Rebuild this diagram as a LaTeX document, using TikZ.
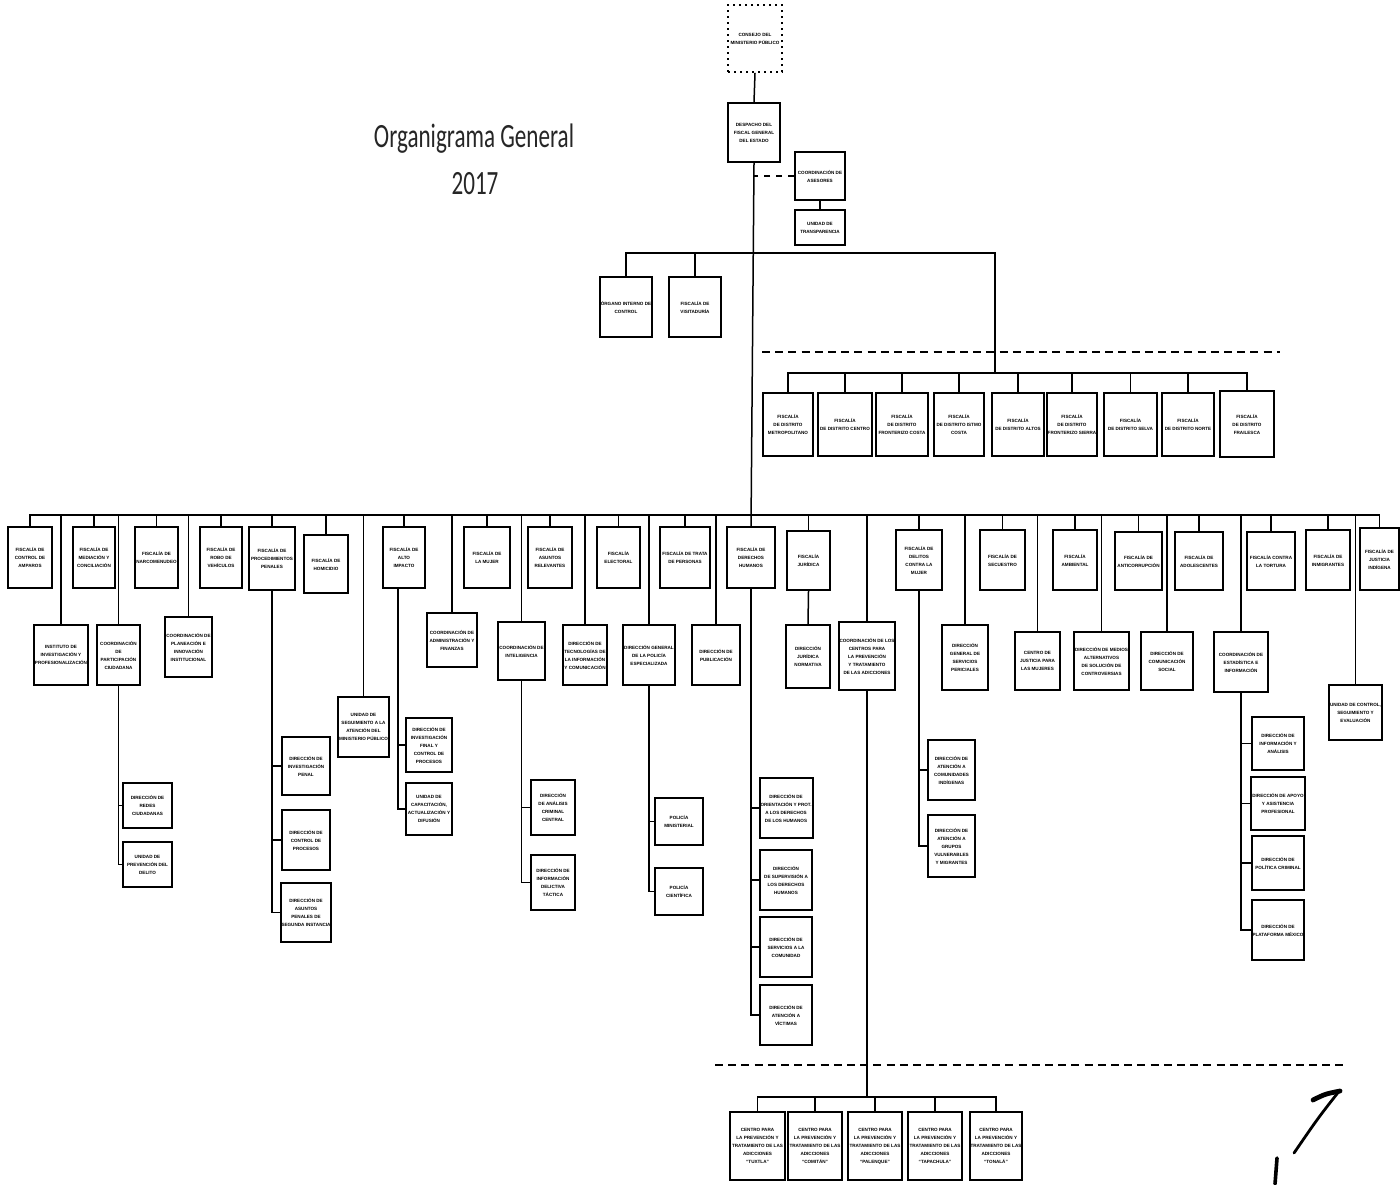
\documentclass[tikz,border=0pt]{standalone}
\usepackage{fontspec}
\usepackage{graphicx}
\setmainfont{Liberation Sans}
\newfontfamily\titlefont{Carlito}
\begin{document}
\begin{tikzpicture}[x=0.5pt,y=-0.5pt,
  box/.style={draw, line width=1pt, fill=white, inner sep=0.5pt, align=center,
    font=\bfseries\fontsize{2.3}{4}\selectfont},
  dotbox/.style={box, dotted, line width=0.8pt},
  conn/.style={line width=0.75pt},
  sep/.style={line width=1.4pt, dash pattern=on 4pt off 2.6pt},
  pen/.style={line width=1.4pt, line cap=round},
  ttl/.style={font=\titlefont\fontsize{17}{19}\selectfont, inner sep=0pt, text=black!85}]
\newcommand\bx[7][box]{\node[#1, minimum width={(#5-#3)*0.5pt}, minimum height={(#6-#4)*0.5pt}] (#2) at ({(#3+#5)/2},{(#4+#6)/2}) {#7};}
\useasboundingbox[fill=white] (0,0) rectangle (1400,1184);

% title
\node[ttl, anchor=base] (t1) at (474,147) {\scalebox{0.68}[1]{Organigrama General}};
\node[ttl, anchor=base] (t2) at (475,194) {\scalebox{0.68}[1]{2017}};

% top
\bx[dotbox]{top}{728}{5}{782}{72}{CONSEJO DEL\\MINISTERIO PÚBLICO}
\bx{desp}{728}{103}{780}{162}{DESPACHO DEL\\FISCAL GENERAL\\DEL ESTADO}
\bx{ases}{795}{152}{845}{200}{COORDINACIÓN DE\\ASESORES}
\bx{transp}{795}{210}{845}{245}{UNIDAD DE\\TRANSPARENCIA}
\bx{oic}{600}{277}{652}{337}{ÓRGANO INTERNO DE\\CONTROL}
\bx{visit}{669}{277}{721}{337}{FISCALÍA DE\\VISITADURÍA}

% districts
\bx{d1}{763}{393}{813}{456}{FISCALÍA\\DE DISTRITO\\METROPOLITANO}
\bx{d2}{818}{393}{872}{456}{FISCALÍA\\DE DISTRITO CENTRO}
\bx{d3}{876}{393}{928}{456}{FISCALÍA\\DE DISTRITO\\FRONTERIZO COSTA}
\bx{d4}{934}{393}{984}{456}{FISCALÍA\\DE DISTRITO ISTMO\\COSTA}
\bx{d5}{992}{393}{1044}{456}{FISCALÍA\\DE DISTRITO ALTOS}
\bx{d6}{1047}{393}{1097}{456}{FISCALÍA\\DE DISTRITO\\FRONTERIZO SIERRA}
\bx{d7}{1104}{393}{1157}{456}{FISCALÍA\\DE DISTRITO SELVA}
\bx{d8}{1162}{393}{1214}{456}{FISCALÍA\\DE DISTRITO NORTE}
\bx{d9}{1220}{391}{1274}{457}{FISCALÍA\\DE DISTRITO\\FRAILESCA}

% main row
\bx{fA}{8}{527}{52}{588}{FISCALÍA DE\\CONTROL DE\\AMPAROS}
\bx{fB}{73}{527}{115}{588}{FISCALÍA DE\\MEDIACIÓN Y\\CONCILIACIÓN}
\bx{fC}{135}{527}{178}{588}{FISCALÍA DE\\NARCOMENUDEO}
\bx{fD}{200}{527}{242}{588}{FISCALÍA DE\\ROBO DE\\VEHÍCULOS}
\bx{fE}{249}{527}{295}{590}{FISCALÍA DE\\PROCEDIMIENTOS\\PENALES}
\bx{fF}{304}{535}{348}{593}{FISCALÍA DE\\HOMICIDIO}
\bx{fG}{383}{527}{425}{588}{FISCALÍA DE\\ALTO\\IMPACTO}
\bx{fH}{464}{527}{510}{588}{FISCALÍA DE\\LA MUJER}
\bx{fI}{528}{527}{572}{588}{FISCALÍA DE\\ASUNTOS\\RELEVANTES}
\bx{fJ}{597}{527}{640}{588}{FISCALÍA\\ELECTORAL}
\bx{fK}{660}{527}{710}{588}{FISCALÍA DE TRATA\\DE PERSONAS}
\bx{fL}{727}{527}{775}{588}{FISCALÍA DE\\DERECHOS\\HUMANOS}
\bx{fM}{787}{531}{830}{590}{FISCALÍA\\JURÍDICA}
\bx{fN}{896}{530}{942}{590}{FISCALÍA DE\\DELITOS\\CONTRA LA\\MUJER}
\bx{fO}{980}{530}{1025}{590}{FISCALÍA DE\\SECUESTRO}
\bx{fP}{1053}{530}{1097}{590}{FISCALÍA\\AMBIENTAL}
\bx{fQ}{1115}{532}{1162}{590}{FISCALÍA DE\\ANTICORRUPCIÓN}
\bx{fR}{1175}{532}{1223}{590}{FISCALÍA DE\\ADOLESCENTES}
\bx{fS}{1247}{532}{1295}{590}{FISCALÍA CONTRA\\LA TORTURA}
\bx{fT}{1306}{530}{1350}{590}{FISCALÍA DE\\INMIGRANTES}
\bx{fU}{1360}{528}{1399}{590}{FISCALÍA DE\\JUSTICIA\\INDÍGENA}

% second level
\bx{inst}{35}{625}{87}{685}{INSTITUTO DE\\INVESTIGACIÓN Y\\PROFESIONALIZACIÓN}
\bx{cpc}{97}{625}{140}{685}{COORDINACIÓN\\DE\\PARTICIPACIÓN\\CIUDADANA}
\bx{cpl}{165}{617}{212}{677}{COORDINACIÓN DE\\PLANEACIÓN E\\INNOVACIÓN\\INSTITUCIONAL}
\bx{uni}{341}{697}{386}{757}{UNIDAD DE\\SEGUIMIENTO A LA\\ATENCIÓN DEL\\MINISTERIO PÚBLICO}
\bx{caf}{427}{613}{477}{667}{COORDINACIÓN DE\\ADMINISTRACIÓN Y\\FINANZAS}
\bx{cint}{498}{622}{545}{680}{COORDINACIÓN DE\\INTELIGENCIA}
\bx{dtic}{563}{625}{607}{685}{DIRECCIÓN DE\\TECNOLOGÍAS DE\\LA INFORMACIÓN\\Y COMUNICACIÓN}
\bx{dgpe}{625}{625}{673}{685}{DIRECCIÓN GENERAL\\DE LA POLICÍA\\ESPECIALIZADA}
\bx{dpub}{692}{625}{740}{685}{DIRECCIÓN DE\\PUBLICACIÓN}
\bx{djn}{786}{625}{830}{688}{DIRECCIÓN\\JURÍDICA\\NORMATIVA}
\bx{ccen}{841}{622}{893}{690}{COORDINACIÓN DE LOS\\CENTROS PARA\\LA PREVENCIÓN\\Y TRATAMIENTO\\DE LAS ADICCIONES}
\bx{dgsp}{942}{625}{988}{690}{DIRECCIÓN\\GENERAL DE\\SERVICIOS\\PERICIALES}
\bx{cjm}{1015}{632}{1060}{690}{CENTRO DE\\JUSTICIA PARA\\LAS MUJERES}
\bx{dmas}{1075}{632}{1128}{690}{DIRECCIÓN DE MEDIOS\\ALTERNATIVOS\\DE SOLUCIÓN DE\\CONTROVERSIAS}
\bx{dcs}{1141}{632}{1193}{690}{DIRECCIÓN DE\\COMUNICACIÓN\\SOCIAL}
\bx{cinf}{1214}{632}{1268}{692}{COORDINACIÓN DE\\ESTADÍSTICA E\\INFORMACIÓN}
\bx{ucs}{1329}{685}{1382}{740}{UNIDAD DE CONTROL,\\SEGUIMIENTO Y\\EVALUACIÓN}

% third level
\bx{cpc1}{123}{783}{172}{828}{DIRECCIÓN DE\\REDES\\CIUDADANAS}
\bx{cpc2}{123}{842}{172}{887}{UNIDAD DE\\PREVENCIÓN DEL\\DELITO}
\bx{fE1}{282}{737}{330}{795}{DIRECCIÓN DE\\INVESTIGACIÓN\\PENAL}
\bx{fE2}{282}{810}{330}{870}{DIRECCIÓN DE\\CONTROL DE\\PROCESOS}
\bx{fE3}{282}{883}{330}{942}{DIRECCIÓN DE\\ASUNTOS\\PENALES DE\\SEGUNDA INSTANCIA}
\bx{fG1}{406}{718}{452}{772}{DIRECCIÓN DE\\INVESTIGACIÓN\\FINAL Y\\CONTROL DE\\PROCESOS}
\bx{fG2}{406}{783}{452}{835}{UNIDAD DE\\CAPACITACIÓN,\\ACTUALIZACIÓN Y\\DIFUSIÓN}
\bx{ci1}{531}{780}{575}{835}{DIRECCIÓN\\DE ANÁLISIS\\CRIMINAL\\CENTRAL}
\bx{ci2}{531}{855}{575}{910}{DIRECCIÓN DE\\INFORMACIÓN\\DELICTIVA\\TÁCTICA}
\bx{pm}{655}{798}{703}{845}{POLICÍA\\MINISTERIAL}
\bx{pc}{655}{868}{703}{915}{POLICÍA\\CIENTÍFICA}
\bx{fL1}{760}{778}{812}{838}{DIRECCIÓN DE\\ORIENTACIÓN Y PROT.\\A LOS DERECHOS\\DE LOS HUMANOS}
\bx{fL2}{760}{850}{812}{910}{DIRECCIÓN\\DE SUPERVISIÓN A\\LOS DERECHOS\\HUMANOS}
\bx{fL3}{760}{917}{812}{977}{DIRECCIÓN DE\\SERVICIOS A LA\\COMUNIDAD}
\bx{fL4}{760}{985}{812}{1045}{DIRECCIÓN DE\\ATENCIÓN A\\VÍCTIMAS}
\bx{fN1}{928}{740}{975}{800}{DIRECCIÓN DE\\ATENCIÓN A\\COMUNIDADES\\INDÍGENAS}
\bx{fN2}{928}{815}{975}{877}{DIRECCIÓN DE\\ATENCIÓN A\\GRUPOS\\VULNERABLES\\Y MIGRANTES}
\bx{cf1}{1252}{717}{1304}{770}{DIRECCIÓN DE\\INFORMACIÓN Y\\ANÁLISIS}
\bx{cf2}{1252}{777}{1304}{830}{DIRECCIÓN DE APOYO\\Y ASISTENCIA\\PROFESIONAL}
\bx{cf3}{1252}{836}{1304}{890}{DIRECCIÓN DE\\POLÍTICA CRIMINAL}
\bx{cf4}{1252}{900}{1304}{960}{DIRECCIÓN DE\\PLATAFORMA MÉXICO}

% bottom centres
\bx{c1}{730}{1112}{785}{1180}{CENTRO PARA\\LA PREVENCIÓN Y\\TRATAMIENTO DE LAS\\ADICCIONES\\“TUXTLA”}
\bx{c2}{788}{1112}{842}{1180}{CENTRO PARA\\LA PREVENCIÓN Y\\TRATAMIENTO DE LAS\\ADICCIONES\\“COMITÁN”}
\bx{c3}{848}{1112}{902}{1180}{CENTRO PARA\\LA PREVENCIÓN Y\\TRATAMIENTO DE LAS\\ADICCIONES\\“PALENQUE”}
\bx{c4}{908}{1112}{962}{1180}{CENTRO PARA\\LA PREVENCIÓN Y\\TRATAMIENTO DE LAS\\ADICCIONES\\“TAPACHULA”}
\bx{c5}{970}{1112}{1022}{1180}{CENTRO PARA\\LA PREVENCIÓN Y\\TRATAMIENTO DE LAS\\ADICCIONES\\“TONALÁ”}

% bar levels
\coordinate (b1) at (0,253);
\coordinate (dj) at (995,373);
\coordinate (mb) at (0,515);
\coordinate (bb) at (0,1097);
\coordinate (gsp) at ([xshift=-3pt]fG.south);

% connectors: top
\draw[conn] (top.south) -- (desp.north);
\draw[conn] (desp.south) -- (fL.north);
\draw[conn, dashed] (ases.west) -- (ases.west -| desp.south);
\draw[conn] (ases.south) -- (transp.north);
\draw[conn] (oic.north) |- (dj |- b1) -- (dj);
\draw[conn] (visit.north) -- (visit.north |- b1);
\draw[conn] (d1.north) |- (d9.north |- dj) -- (d9.north);
\foreach \n in {d2,d3,d4,d5,d6,d7,d8} \draw[conn] (\n.north) -- (\n.north |- dj);

% main bar
\draw[conn] (fA.north) |- (fU.north |- mb) -- (fU.north);
\foreach \n in {fB,fC,fD,fE,fF,fG,fH,fI,fJ,fK,fM,fN,fO,fP,fQ,fR,fS,fT,
  inst,cpc,cpl,uni,caf,cint,dtic,dgpe,dpub,ccen,dgsp,cjm,dmas,dcs,cinf,ucs}
  \draw[conn] (\n.north) -- (\n.north |- mb);
\draw[conn] (fM.south) -- (djn.north);

% spines
\draw[conn] (cpc.south) |- (cpc2.west);
\draw[conn] (cpc1.west) -- (cpc1.west -| cpc.south);
\draw[conn] (fE.south) |- (fE3.west);
\foreach \n in {fE1,fE2} \draw[conn] (\n.west) -- (\n.west -| fE.south);
\draw[conn] (gsp) |- (fG2.west);
\draw[conn] (fG1.west) -- (fG1.west -| gsp);
\draw[conn] (cint.south) |- (ci2.west);
\draw[conn] (ci1.west) -- (ci1.west -| cint.south);
\draw[conn] (dgpe.south) |- (pc.west);
\draw[conn] (pm.west) -- (pm.west -| dgpe.south);
\draw[conn] (fL.south) |- (fL4.west);
\foreach \n in {fL1,fL2,fL3} \draw[conn] (\n.west) -- (\n.west -| fL.south);
\draw[conn] (fN.south) |- (fN2.west);
\draw[conn] (fN1.west) -- (fN1.west -| fN.south);
\draw[conn] (cinf.south) |- (cf4.west);
\foreach \n in {cf1,cf2,cf3} \draw[conn] (\n.west) -- (\n.west -| cinf.south);

% bottom
\draw[conn] (ccen.south) -- (ccen.south |- bb);
\draw[conn] (c1.north) |- (c5.north |- bb) -- (c5.north);
\foreach \n in {c2,c3,c4} \draw[conn] (\n.north) -- (\n.north |- bb);

% dashed separators
\draw[sep] (762,352) -- (1280,352);
\draw[sep] (715,1065) -- (1345,1065);

% handwritten mark
\draw[pen, line width=2.4pt] (1313,1100) .. controls (1325,1094) .. (1340,1091);
\draw[pen] (1340,1090) .. controls (1318,1118) .. (1294,1153);
\draw[pen, line width=1.8pt] (1277,1158) -- (1275,1184);
\end{tikzpicture}
\end{document}
